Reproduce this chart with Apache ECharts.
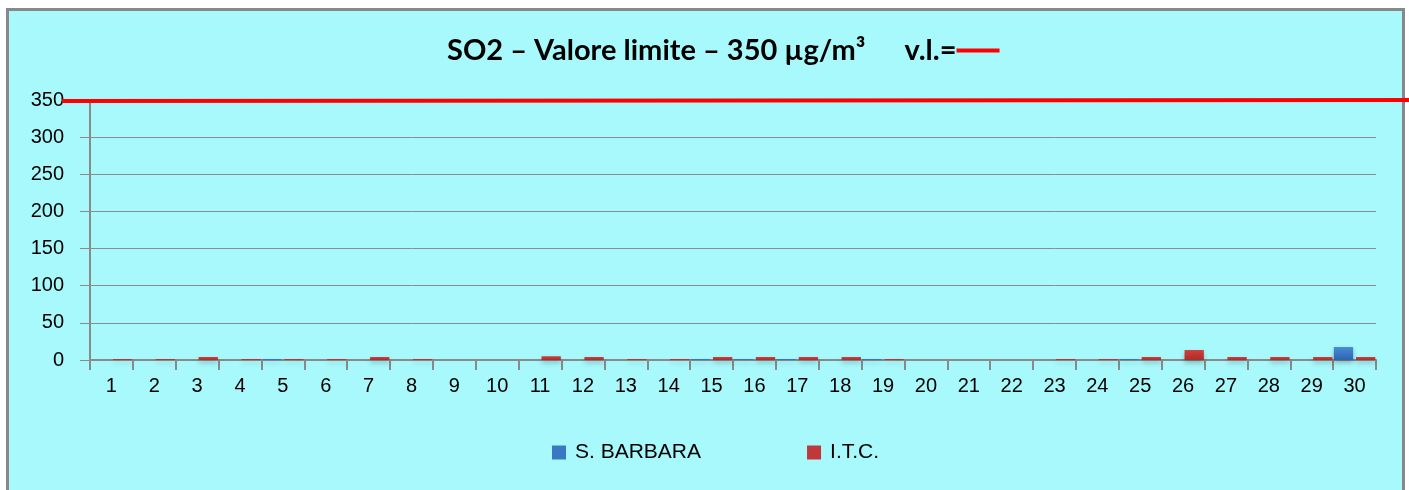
<!DOCTYPE html>
<html>
<head>
<meta charset="utf-8">
<script src="https://cdn.jsdelivr.net/npm/echarts@6/dist/echarts.min.js"></script>
<style>
html,body{margin:0;padding:0;background:#ffffff;}
#chart{width:1409px;height:490px;}
</style>
</head>
<body>
<div id="chart"></div>
<script>
var categories = ['1','2','3','4','5','6','7','8','9','10','11','12','13','14','15','16','17','18','19','20','21','22','23','24','25','26','27','28','29','30'];
var santaBarbara = [0,0,0,0,1.5,0,0,0,0,0,0,0,0,0,1.5,1.5,1.5,0,1.5,0,0,0,0,0,1.5,0,0,0,0,17.5];
var itc = [1.5,1.5,4,1.5,1.5,1.5,4,1.5,0,0,5,4,1.5,1.5,4,4,4,4,1.5,0,0,0,1.5,1.5,4,13.5,4,4,4,4];
var limitValue = 350;
var yTicks = {min:0, max:350, interval:50};
var titleMain = 'SO2 – Valore limite – 350 µg/m³';
var titleLegend = 'v.l.=';
var seriesNames = ['S. BARBARA','I.T.C.'];

var chart = echarts.init(document.getElementById('chart'), null, {renderer:'canvas'});
var font = 'Liberation Sans';
function grad(top, bottom){
  return new echarts.graphic.LinearGradient(0,0,0,1,[{offset:0,color:top},{offset:1,color:bottom}]);
}
var option = {
  backgroundColor:'#ffffff',
  animation:false,
  title:{
    text:'{t|' + titleMain + '}{g|}{t|' + titleLegend + '}{l| }',
    left:442, top:31,
    textStyle:{
      rich:{
        t:{fontFamily:'Lato', fontWeight:'bold', fontSize:29, color:'#000000'},
        g:{width:39, height:4},
        l:{width:43, height:4, backgroundColor:'#ff0000', fontSize:1, lineHeight:4, verticalAlign:'middle'}
      }
    }
  },
  legend:{
    left:552, top:442, padding:0,
    itemWidth:14, itemHeight:14, itemGap:106,
    icon:'rect',
    textStyle:{fontFamily:font, fontSize:21, color:'#000000', padding:[0,0,0,4]}
  },
  grid:{left:90, right:33, top:100, bottom:130, containLabel:false},
  xAxis:{
    type:'category', data:categories, boundaryGap:true,
    axisLine:{lineStyle:{color:'#8a8a8a', width:2}},
    axisTick:{show:true, length:10, alignWithLabel:false, lineStyle:{color:'#8a8a8a', width:2}},
    axisLabel:{fontFamily:font, fontSize:20, color:'#000000', margin:16},
    splitLine:{show:false}
  },
  yAxis:{
    type:'value', min:yTicks.min, max:yTicks.max, interval:yTicks.interval,
    axisLine:{show:true, lineStyle:{color:'#8a8a8a', width:2}},
    axisTick:{show:true, length:10, lineStyle:{color:'#8a8a8a', width:1}},
    axisLabel:{fontFamily:font, fontSize:20, color:'#000000', margin:26},
    splitLine:{show:true, lineStyle:{color:'#8c8c8c', width:1}}
  },
  series:[
    {name:seriesNames[0], type:'bar', data:santaBarbara, barWidth:'45%', barGap:'15%',
     itemStyle:{color:grad('#4a8ad6','#2e64ae'), shadowColor:'rgba(0,0,0,0.25)', shadowBlur:5, shadowOffsetY:3}},
    {name:seriesNames[1], type:'bar', data:itc, barWidth:'45%', barGap:'15%',
     itemStyle:{color:grad('#d23e3c','#a82e2c'), shadowColor:'rgba(0,0,0,0.25)', shadowBlur:5, shadowOffsetY:3}}
  ]
};
option.legend.data = [
  {name:seriesNames[0], itemStyle:{color:'#3a78c4'}},
  {name:seriesNames[1], itemStyle:{color:'#c0393a'}}
];
chart.setOption(option);
var yLim = chart.convertToPixel({yAxisIndex:0}, limitValue);
chart.setOption({
  graphic:[
    {type:'rect', z:-10, silent:true, shape:{x:7.5, y:9.5, width:1396, height:500},
     style:{fill:'#a8f9fc', stroke:'#888888', lineWidth:3}},
    {type:'line', z:100, silent:true, shape:{x1:62, y1:yLim + 1, x2:1409, y2:yLim},
     style:{stroke:'#ff0000', lineWidth:4}}
  ]
});
</script>
</body>
</html>
